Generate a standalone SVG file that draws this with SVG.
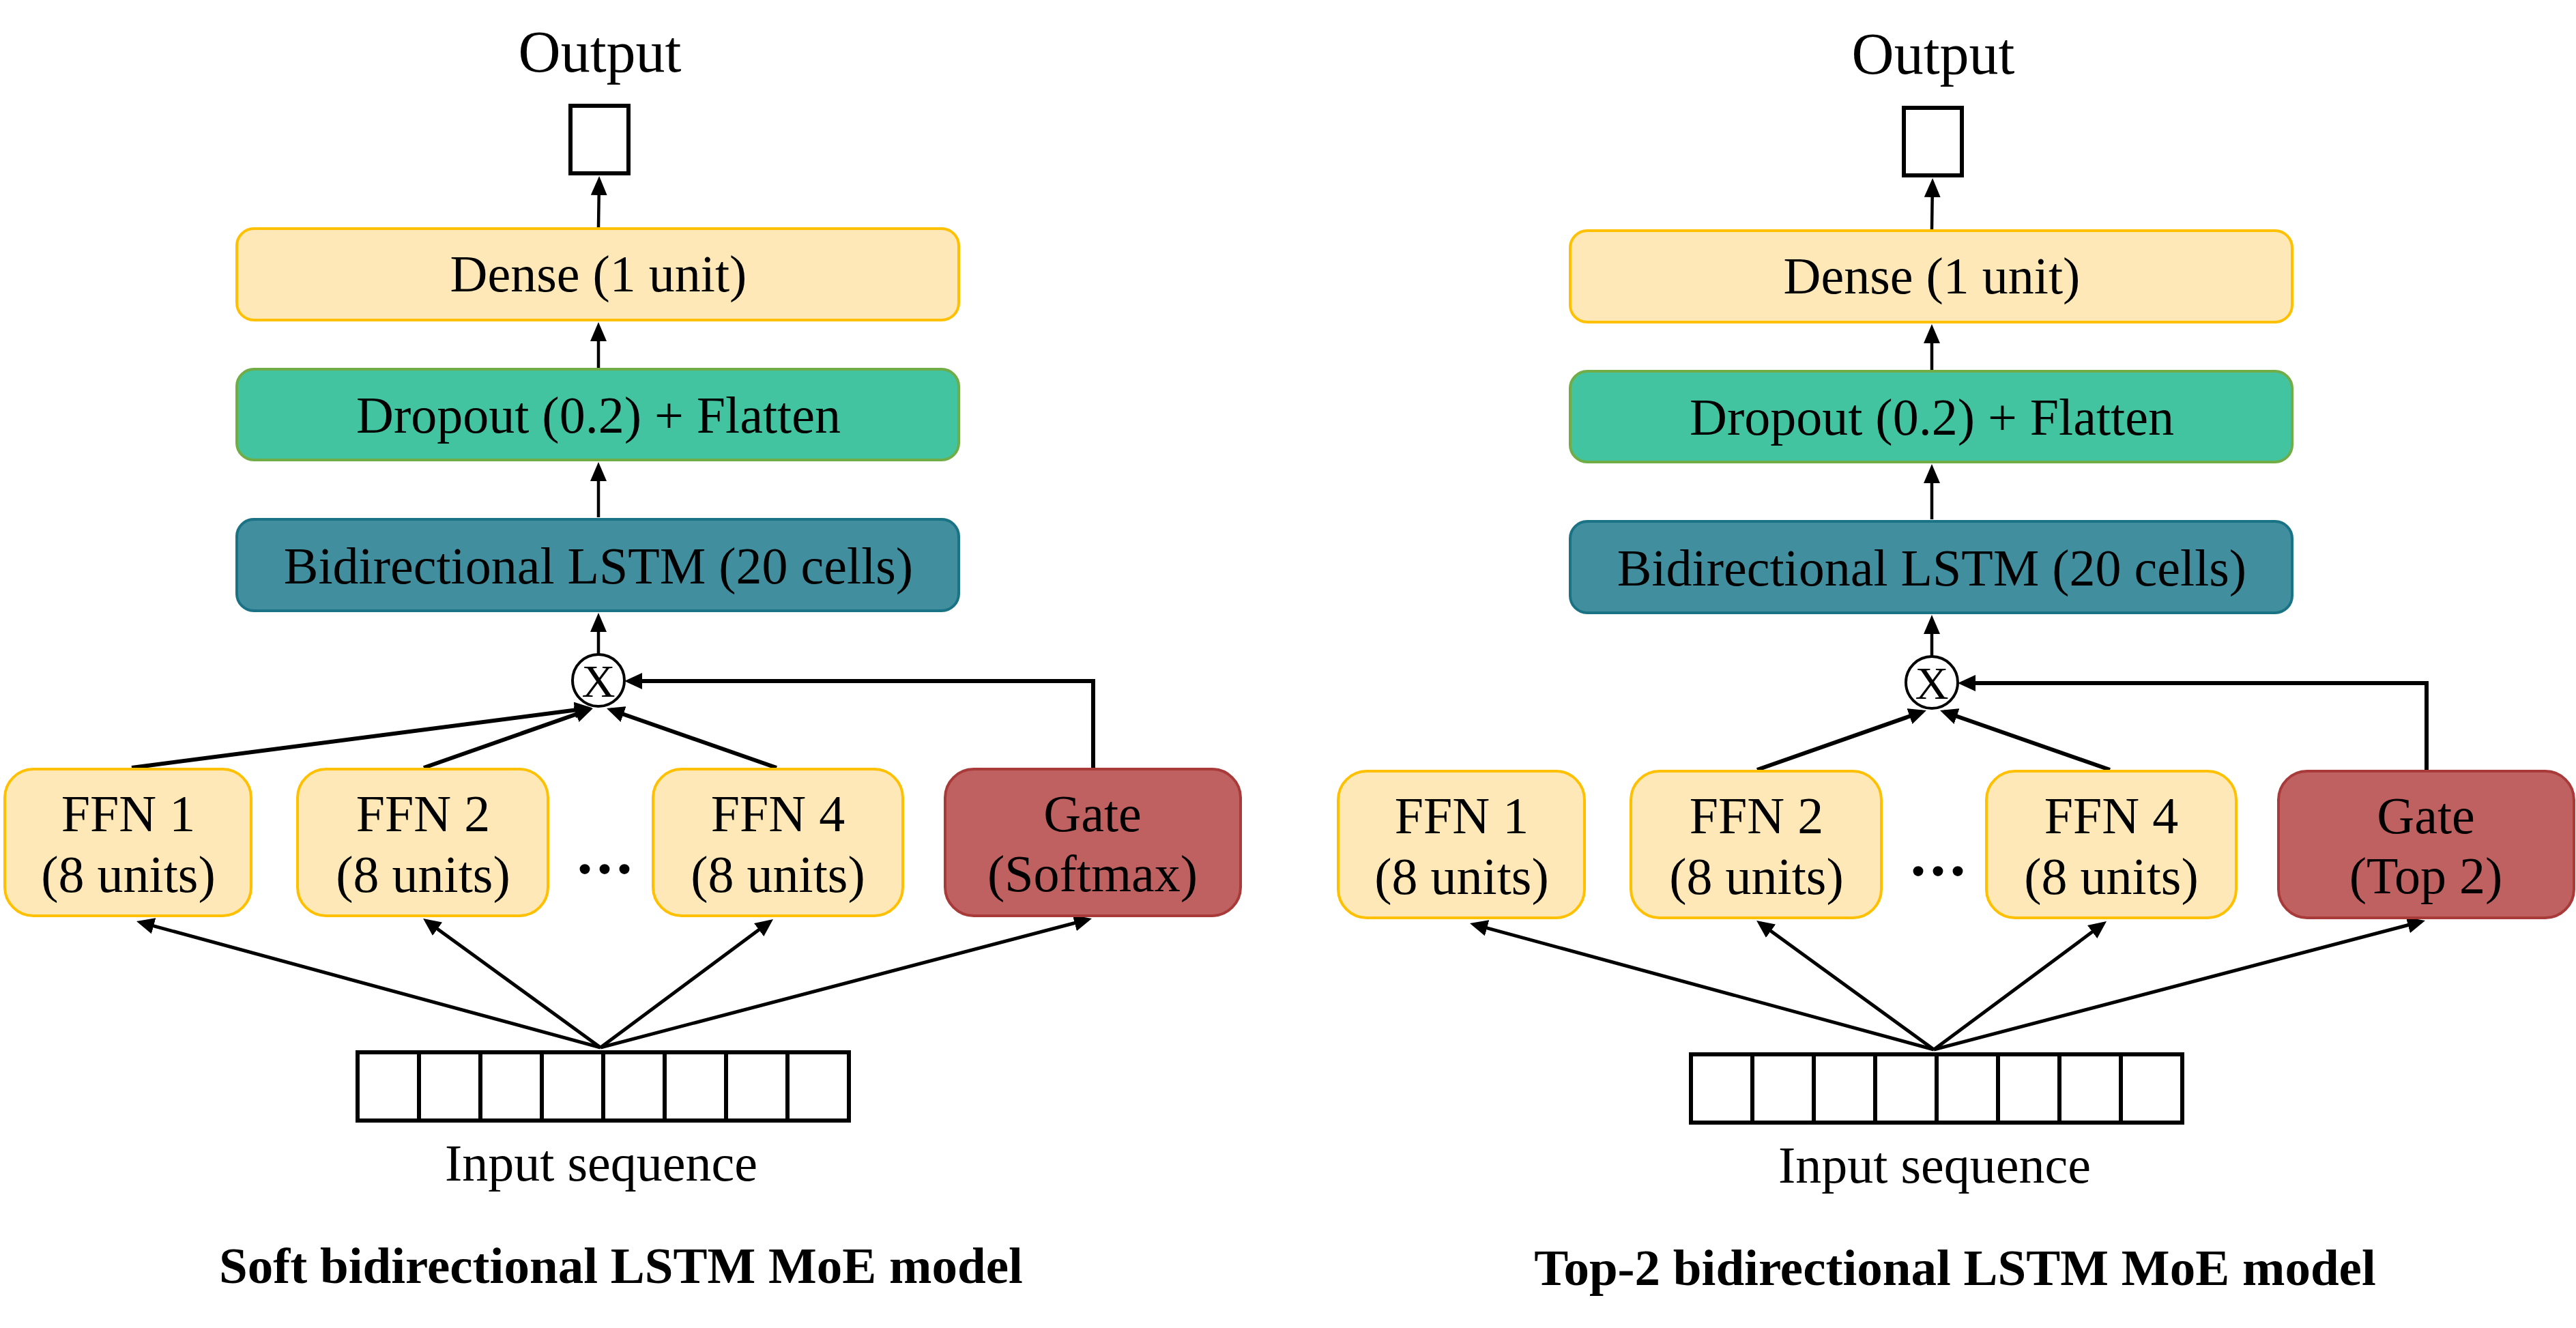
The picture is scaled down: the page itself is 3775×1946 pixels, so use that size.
<svg xmlns="http://www.w3.org/2000/svg" width="3775" height="1946" viewBox="0 0 3775 1946">
<defs>
<marker id="ah" viewBox="0 0 26 24" markerWidth="26" markerHeight="24" refX="20" refY="12" orient="auto" markerUnits="userSpaceOnUse"><path d="M0,0 L26,12 L0,24 z" fill="#000"/></marker>
<marker id="ahv" viewBox="0 0 28 24" markerWidth="28" markerHeight="24" refX="21" refY="12" orient="auto" markerUnits="userSpaceOnUse"><path d="M0,0 L28,12 L0,24 z" fill="#000"/></marker>
</defs>
<style>
text{font-family:"Liberation Serif","Times New Roman",serif;fill:#000;text-anchor:middle;font-size:76px}
.out{font-size:86px}
.ttl{font-weight:bold;font-size:75px}
.dots{font-weight:bold;font-size:92px;letter-spacing:6px}
.xx{font-size:68px}
.dense rect,.ffn rect{fill:#FFE8B8;stroke:#FFC000;stroke-width:4}
.drop rect{fill:#42C4A0;stroke:#70AD47;stroke-width:4}
.lstm rect{fill:#418E9F;stroke:#1A7385;stroke-width:4}
.gate rect{fill:#BF6160;stroke:#A83A3A;stroke-width:4}
.box rect,.inp rect{fill:#fff;stroke:#000;stroke-width:6}
.inp line{stroke:#000;stroke-width:6}
.mul circle{fill:#fff;stroke:#000;stroke-width:4}
.cv{fill:none;stroke:#000;stroke-width:4.5;marker-end:url(#ahv)}
.cn{fill:none;stroke:#000;stroke-width:6;marker-end:url(#ah)}
.ci{fill:none;stroke:#000;stroke-width:5;marker-end:url(#ah)}
</style>
<rect width="3775" height="1946" fill="#fff"/>

<!-- Left diagram -->
<g id="soft">
<g id="soft-connectors">
<path class="cv" d="M877,333 L878,265"/>
<path class="cv" d="M877,539 L877,479"/>
<path class="cv" d="M877,758 L877,684"/>
<path class="cv" d="M877,959 L877,905"/>
<path class="cn" d="M1602,1127 V998 H921"/>
<path class="cn" d="M193,1125 L862,1038"/>
<path class="cn" d="M621,1125 L863.3,1040"/>
<path class="cn" d="M1138,1125 L894.7,1040"/>
<path class="ci" d="M880,1535 L205.8,1351.6"/>
<path class="ci" d="M880,1535 L624.9,1349.5"/>
<path class="ci" d="M880,1535 L1128.2,1350.6"/>
<path class="ci" d="M880,1535 L1594.2,1347.5"/>
</g>
<g id="soft-output-label"><text class="out" x="879" y="105">Output</text></g>
<g id="soft-output" class="box"><rect x="836" y="155" width="85" height="99"/></g>
<g id="soft-dense" class="dense"><rect x="347" y="335" width="1058" height="134" rx="25"/><text x="877" y="427">Dense (1 unit)</text></g>
<g id="soft-dropout" class="drop"><rect x="347" y="541" width="1058" height="133" rx="25"/><text x="877" y="634">Dropout (0.2) + Flatten</text></g>
<g id="soft-lstm" class="lstm"><rect x="347" y="761" width="1058" height="134" rx="25"/><text x="877" y="855">Bidirectional LSTM (20 cells)</text></g>
<g id="soft-mul" class="mul"><circle cx="877" cy="997" r="38"/><text class="xx" x="877" y="1021">X</text></g>
<g id="soft-ffn1" class="ffn"><rect x="7" y="1127" width="361" height="215" rx="42"/><text x="188" y="1218">FFN 1</text><text x="188" y="1307">(8 units)</text></g>
<g id="soft-ffn2" class="ffn"><rect x="436" y="1127" width="367" height="215" rx="42"/><text x="620" y="1218">FFN 2</text><text x="620" y="1307">(8 units)</text></g>
<g id="soft-dots"><text class="dots" x="889" y="1280">...</text></g>
<g id="soft-ffn4" class="ffn"><rect x="957" y="1127" width="366" height="215" rx="42"/><text x="1140" y="1218">FFN 4</text><text x="1140" y="1307">(8 units)</text></g>
<g id="soft-gate" class="gate"><rect x="1385" y="1127" width="433" height="215" rx="42"/><text x="1601" y="1218">Gate</text><text x="1601" y="1306">(Softmax)</text></g>
<g id="soft-input" class="inp">
<rect x="524" y="1542" width="720" height="100"/>
<line x1="614" y1="1542" x2="614" y2="1642"/><line x1="704" y1="1542" x2="704" y2="1642"/><line x1="794" y1="1542" x2="794" y2="1642"/><line x1="884" y1="1542" x2="884" y2="1642"/><line x1="974" y1="1542" x2="974" y2="1642"/><line x1="1064" y1="1542" x2="1064" y2="1642"/><line x1="1154" y1="1542" x2="1154" y2="1642"/>
<text x="881" y="1730">Input sequence</text>
</g>
<g id="soft-title"><text class="ttl" x="910" y="1880">Soft bidirectional LSTM MoE model</text></g>
</g>

<!-- Right diagram -->
<g id="top2" transform="translate(1954,3)">
<g id="top2-connectors">
<path class="cv" d="M877,333 L878,265"/>
<path class="cv" d="M877,539 L877,479"/>
<path class="cv" d="M877,758 L877,684"/>
<path class="cv" d="M877,959 L877,905"/>
<path class="cn" d="M1602,1127 V998 H921"/>
<path class="cn" d="M621,1125 L863.3,1040"/>
<path class="cn" d="M1138,1125 L894.7,1040"/>
<path class="ci" d="M880,1535 L205.8,1351.6"/>
<path class="ci" d="M880,1535 L624.9,1349.5"/>
<path class="ci" d="M880,1535 L1128.2,1350.6"/>
<path class="ci" d="M880,1535 L1594.2,1347.5"/>
</g>
<g id="top2-output-label"><text class="out" x="879" y="105">Output</text></g>
<g id="top2-output" class="box"><rect x="836" y="155" width="85" height="99"/></g>
<g id="top2-dense" class="dense"><rect x="347" y="335" width="1058" height="134" rx="25"/><text x="877" y="427">Dense (1 unit)</text></g>
<g id="top2-dropout" class="drop"><rect x="347" y="541" width="1058" height="133" rx="25"/><text x="877" y="634">Dropout (0.2) + Flatten</text></g>
<g id="top2-lstm" class="lstm"><rect x="347" y="761" width="1058" height="134" rx="25"/><text x="877" y="855">Bidirectional LSTM (20 cells)</text></g>
<g id="top2-mul" class="mul"><circle cx="877" cy="997" r="38"/><text class="xx" x="877" y="1021">X</text></g>
<g id="top2-ffn1" class="ffn"><rect x="7" y="1127" width="361" height="215" rx="42"/><text x="188" y="1218">FFN 1</text><text x="188" y="1307">(8 units)</text></g>
<g id="top2-ffn2" class="ffn"><rect x="436" y="1127" width="367" height="215" rx="42"/><text x="620" y="1218">FFN 2</text><text x="620" y="1307">(8 units)</text></g>
<g id="top2-dots"><text class="dots" x="889" y="1280">...</text></g>
<g id="top2-ffn4" class="ffn"><rect x="957" y="1127" width="366" height="215" rx="42"/><text x="1140" y="1218">FFN 4</text><text x="1140" y="1307">(8 units)</text></g>
<g id="top2-gate" class="gate"><rect x="1385" y="1127" width="433" height="215" rx="42"/><text x="1601" y="1218">Gate</text><text x="1601" y="1306">(Top 2)</text></g>
<g id="top2-input" class="inp">
<rect x="524" y="1542" width="720" height="100"/>
<line x1="614" y1="1542" x2="614" y2="1642"/><line x1="704" y1="1542" x2="704" y2="1642"/><line x1="794" y1="1542" x2="794" y2="1642"/><line x1="884" y1="1542" x2="884" y2="1642"/><line x1="974" y1="1542" x2="974" y2="1642"/><line x1="1064" y1="1542" x2="1064" y2="1642"/><line x1="1154" y1="1542" x2="1154" y2="1642"/>
<text x="881" y="1730">Input sequence</text>
</g>
<g id="top2-title"><text class="ttl" x="911" y="1880">Top-2 bidirectional LSTM MoE model</text></g>
</g>
</svg>
